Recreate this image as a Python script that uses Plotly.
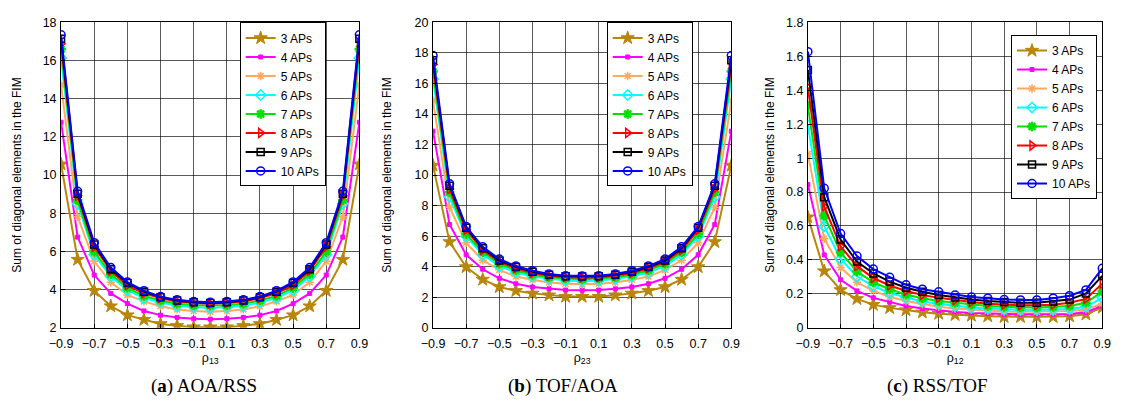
import plotly.graph_objects as go

rho = [-0.9, -0.8, -0.7, -0.6, -0.5, -0.4, -0.3, -0.2, -0.1, 0.0,
       0.1, 0.2, 0.3, 0.4, 0.5, 0.6, 0.7, 0.8, 0.9]

series_names = ["3 APs", "4 APs", "5 APs", "6 APs", "7 APs", "8 APs", "9 APs", "10 APs"]

# Panel (a) AOA/RSS, x = rho_13
a_3 = [10.57, 5.57, 3.94, 3.13, 2.66, 2.42, 2.20, 2.10, 2.03, 2.03, 2.03, 2.10, 2.20, 2.42, 2.66, 3.13, 3.94, 5.57, 10.57]
a_4 = [12.77, 6.75, 4.76, 3.80, 3.26, 2.88, 2.66, 2.54, 2.47, 2.45, 2.47, 2.54, 2.66, 2.88, 3.26, 3.80, 4.76, 6.75, 12.77]
a_5 = [14.74, 7.82, 5.48, 4.38, 3.72, 3.38, 3.13, 2.96, 2.88, 2.84, 2.88, 2.96, 3.13, 3.38, 3.72, 4.38, 5.48, 7.82, 14.74]
a_6 = [16.14, 8.50, 5.82, 4.68, 3.97, 3.55, 3.33, 3.15, 3.08, 3.04, 3.08, 3.15, 3.33, 3.55, 3.97, 4.68, 5.82, 8.50, 16.14]
a_7 = [16.60, 8.68, 5.99, 4.81, 4.09, 3.67, 3.43, 3.26, 3.18, 3.16, 3.18, 3.26, 3.43, 3.67, 4.09, 4.81, 5.99, 8.68, 16.60]
a_8 = [16.88, 8.92, 6.24, 4.98, 4.22, 3.80, 3.55, 3.38, 3.30, 3.26, 3.30, 3.38, 3.55, 3.80, 4.22, 4.98, 6.24, 8.92, 16.88]
a_9 = [17.15, 9.02, 6.36, 5.06, 4.34, 3.89, 3.60, 3.43, 3.33, 3.30, 3.33, 3.43, 3.60, 3.89, 4.34, 5.06, 6.36, 9.02, 17.15]
a_10 = [17.35, 9.15, 6.46, 5.15, 4.39, 3.94, 3.63, 3.46, 3.38, 3.33, 3.38, 3.46, 3.63, 3.94, 4.39, 5.15, 6.46, 9.15, 17.35]

# Panel (b) TOF/AOA, x = rho_23
b_3 = [10.63, 5.62, 3.98, 3.16, 2.67, 2.42, 2.25, 2.13, 2.04, 2.04, 2.04, 2.13, 2.25, 2.42, 2.67, 3.16, 3.98, 5.62, 10.63]
b_4 = [12.88, 6.76, 4.78, 3.83, 3.24, 2.88, 2.67, 2.55, 2.47, 2.46, 2.47, 2.55, 2.67, 2.88, 3.24, 3.83, 4.78, 6.76, 12.88]
b_5 = [14.88, 7.89, 5.56, 4.42, 3.79, 3.35, 3.14, 2.97, 2.88, 2.84, 2.88, 2.97, 3.14, 3.35, 3.79, 4.42, 5.56, 7.89, 14.88]
b_6 = [16.30, 8.57, 6.00, 4.78, 4.04, 3.62, 3.35, 3.20, 3.09, 3.05, 3.09, 3.20, 3.35, 3.62, 4.04, 4.78, 6.00, 8.57, 16.30]
b_7 = [16.78, 8.88, 6.15, 4.95, 4.19, 3.77, 3.47, 3.31, 3.22, 3.18, 3.22, 3.31, 3.47, 3.77, 4.19, 4.95, 6.15, 8.88, 16.78]
b_8 = [17.24, 9.09, 6.42, 5.09, 4.32, 3.89, 3.58, 3.41, 3.31, 3.28, 3.31, 3.41, 3.58, 3.89, 4.32, 5.09, 6.42, 9.09, 17.24]
b_9 = [17.52, 9.30, 6.55, 5.20, 4.40, 3.98, 3.66, 3.47, 3.37, 3.35, 3.37, 3.47, 3.66, 3.98, 4.40, 5.20, 6.55, 9.30, 17.52]
b_10 = [17.83, 9.43, 6.63, 5.30, 4.50, 4.04, 3.73, 3.52, 3.41, 3.39, 3.41, 3.52, 3.73, 4.04, 4.50, 5.30, 6.63, 9.43, 17.83]

# Panel (c) RSS/TOF, x = rho_12
c_3 = [0.652, 0.334, 0.223, 0.170, 0.136, 0.117, 0.104, 0.091, 0.083, 0.076, 0.072, 0.068, 0.064, 0.064, 0.064, 0.064, 0.068, 0.079, 0.119]
c_4 = [0.844, 0.429, 0.283, 0.217, 0.176, 0.151, 0.128, 0.113, 0.102, 0.093, 0.087, 0.083, 0.079, 0.079, 0.079, 0.079, 0.081, 0.091, 0.128]
c_5 = [1.024, 0.525, 0.355, 0.268, 0.217, 0.183, 0.157, 0.138, 0.123, 0.113, 0.106, 0.100, 0.096, 0.094, 0.094, 0.094, 0.098, 0.108, 0.142]
c_6 = [1.194, 0.599, 0.406, 0.302, 0.246, 0.204, 0.178, 0.155, 0.140, 0.128, 0.119, 0.113, 0.108, 0.106, 0.106, 0.108, 0.111, 0.123, 0.176]
c_7 = [1.307, 0.661, 0.444, 0.332, 0.268, 0.227, 0.196, 0.174, 0.157, 0.147, 0.136, 0.128, 0.123, 0.119, 0.119, 0.123, 0.128, 0.147, 0.213]
c_8 = [1.417, 0.714, 0.480, 0.363, 0.293, 0.249, 0.217, 0.193, 0.176, 0.162, 0.151, 0.142, 0.136, 0.132, 0.132, 0.136, 0.147, 0.170, 0.260]
c_9 = [1.520, 0.770, 0.520, 0.390, 0.320, 0.272, 0.236, 0.212, 0.193, 0.178, 0.166, 0.157, 0.151, 0.147, 0.147, 0.155, 0.166, 0.202, 0.306]
c_10 = [1.628, 0.822, 0.555, 0.423, 0.346, 0.297, 0.253, 0.227, 0.212, 0.193, 0.181, 0.174, 0.166, 0.164, 0.164, 0.174, 0.189, 0.223, 0.350]

panel_a = [a_3, a_4, a_5, a_6, a_7, a_8, a_9, a_10]
panel_b = [b_3, b_4, b_5, b_6, b_7, b_8, b_9, b_10]
panel_c = [c_3, c_4, c_5, c_6, c_7, c_8, c_9, c_10]

x_titles = ["ρ<sub>13</sub>", "ρ<sub>23</sub>", "ρ<sub>12</sub>"]
captions = ["(<b>a</b>) AOA/RSS", "(<b>b</b>) TOF/AOA", "(<b>c</b>) RSS/TOF"]
y_title = "Sum of diagonal elements in the FIM"
x_ticks = [-0.9, -0.7, -0.5, -0.3, -0.1, 0.1, 0.3, 0.5, 0.7, 0.9]

colors = ["#b8860b", "#ff00ff", "#ffa860", "#00ffff", "#00e000", "#ff0000", "#000000", "#0000ff"]
symbols = ["star", "square", "asterisk-open", "diamond-open", "asterisk-open",
           "triangle-right-open", "square-open", "circle-open"]
msizes = [10, 4, 7, 8, 8, 8, 7, 8]
mlw = [1, 1, 1.5, 1.5, 2.5, 1.5, 1.5, 1.5]

W, H = 1126, 412
px_x = [(50, 354), (429, 733), (811, 1111)]
px_y = (16, 332)
y_ranges = [(2, 18), (0, 20), (0, 1.8)]
y_dticks = [2, 2, 0.2]
y_standoff = [18, 20, 8]
legend_pos = [(232, 16), (606, 16), (1018, 29)]
caption_x = [196, 561, 943]

FONT = "Liberation Sans, Arial, Helvetica, sans-serif"

fig = go.Figure()
layout = dict(
    width=W, height=H, margin=dict(l=0, r=0, t=0, b=0),
    paper_bgcolor="white", plot_bgcolor="white",
    font=dict(family=FONT, size=12, color="black"),
    annotations=[],
)

for p, data in enumerate([panel_a, panel_b, panel_c]):
    sfx = "" if p == 0 else str(p + 1)
    leg = "legend" + sfx
    for i, ys in enumerate(data):
        fig.add_trace(go.Scatter(
            x=rho, y=ys, mode="lines+markers", name=series_names[i],
            line=dict(color=colors[i], width=2),
            marker=dict(symbol=symbols[i], size=msizes[i], color=colors[i],
                        line=dict(color=colors[i], width=mlw[i])),
            xaxis="x" + sfx, yaxis="y" + sfx, legend=leg,
        ))
    x0, x1 = px_x[p]
    axis_common = dict(
        showline=True, linecolor="black", linewidth=1, mirror=True,
        showgrid=True, gridcolor="rgba(0,0,0,0.65)", gridwidth=1,
        zeroline=False, ticks="inside", ticklen=4, tickcolor="black",
        tickfont=dict(size=12.5, color="black"),
    )
    layout["xaxis" + sfx] = dict(
        domain=[x0 / W, x1 / W], range=[-0.9, 0.9], tickvals=x_ticks,
        anchor="y" + sfx, ticklabelstandoff=4,
        title=dict(text=x_titles[p], font=dict(size=12.5), standoff=2),
        **axis_common,
    )
    layout["yaxis" + sfx] = dict(
        domain=[1 - px_y[1] / H, 1 - px_y[0] / H], range=list(y_ranges[p]),
        dtick=y_dticks[p], tick0=0, anchor="x" + sfx, ticklabelstandoff=1,
        title=dict(text=y_title, font=dict(size=12), standoff=y_standoff[p]),
        **axis_common,
    )
    lx, ly = legend_pos[p]
    layout[leg] = dict(
        x=lx / W, y=1 - ly / H, xanchor="left", yanchor="top",
        xref="paper", yref="paper",
        bgcolor="white", bordercolor="black", borderwidth=1,
        font=dict(family=FONT, size=12, color="black"),
        tracegroupgap=0, itemwidth=30,
    )
    layout["annotations"].append(dict(
        text=captions[p], x=caption_x[p] / W, y=1 - 392 / H,
        xref="paper", yref="paper", showarrow=False,
        xanchor="center", yanchor="middle",
        font=dict(family="Liberation Serif, DejaVu Serif, serif", size=19, color="black"),
    ))

fig.update_layout(**layout)
fig.write_html("out.html")
